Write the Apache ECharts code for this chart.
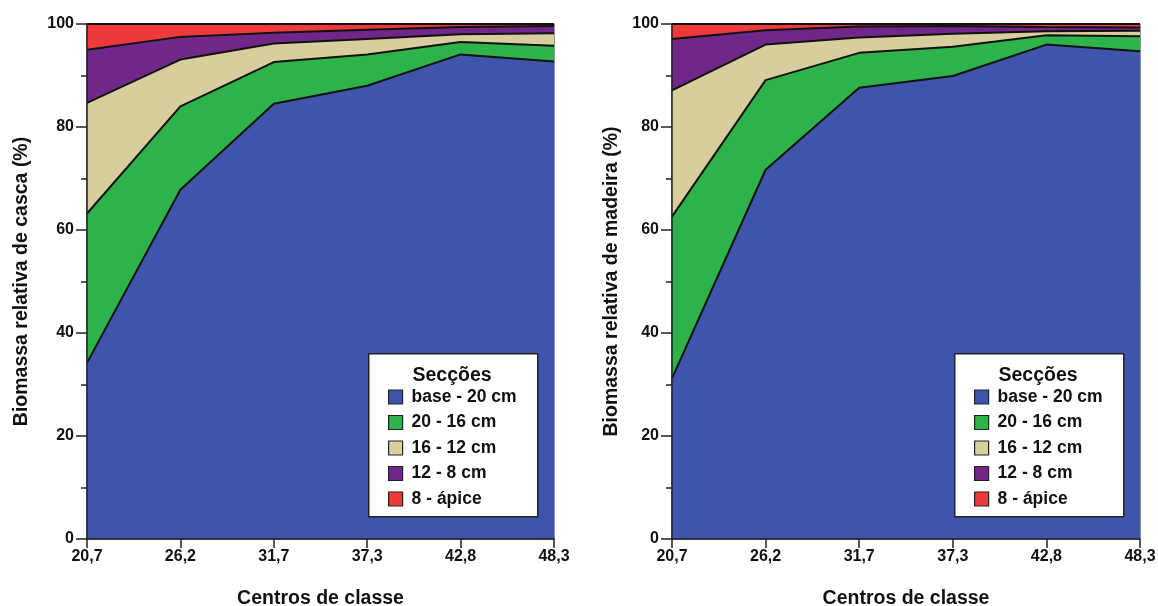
<!DOCTYPE html>
<html><head><meta charset="utf-8">
<script src="https://cdn.jsdelivr.net/npm/echarts@6/dist/echarts.min.js"></script>
<style>html,body{margin:0;padding:0;background:#fff}#c{width:1158px;height:606px}</style>
</head><body><div id="c"></div>
<script>
const categories = ['20,7','26,2','31,7','37,3','42,8','48,3'];
const seriesNames = ['base - 20 cm','20 - 16 cm','16 - 12 cm','12 - 8 cm','8 - ápice'];
const colors = ['#3F54AB','#2EB34A','#D8CD9C','#71268A','#EE3A3A'];
// Left: casca
const cascaBase   = [34.2, 67.8, 84.5, 88.0, 94.1, 92.7];
const casca20_16  = [29.0, 16.2, 8.1, 6.1, 2.4, 3.1];
const casca16_12  = [21.5, 9.1, 3.6, 3.0, 1.5, 2.4];
const casca12_8   = [10.3, 4.4, 2.1, 1.8, 1.4, 1.4];
const casca8_apice= [5.0, 2.5, 1.7, 1.1, 0.6, 0.4];
// Right: madeira
const madeiraBase   = [31.2, 71.7, 87.6, 89.9, 96.0, 94.7];
const madeira20_16  = [31.4, 17.4, 6.8, 5.7, 1.8, 2.9];
const madeira16_12  = [24.5, 6.9, 3.0, 2.5, 0.8, 1.1];
const madeira12_8   = [10.0, 2.8, 2.1, 1.5, 0.8, 0.6];
const madeira8_apice= [2.9, 1.2, 0.5, 0.4, 0.6, 0.7];

const yTitles = ['Biomassa relativa de casca (%)','Biomassa relativa de madeira (%)'];
const xTitle = 'Centros de classe';
const legendTitle = 'Secções';

const FONT = '"Liberation Sans", Arial, sans-serif';
const chart = echarts.init(document.getElementById('c'));
const grids = [
  {left: 87, width: 467, top: 24, bottom: 67, outerBoundsMode: 'none', containLabel: false, show: true, borderColor: '#222', borderWidth: 1, backgroundColor: 'transparent'},
  {left: 672, width: 468, top: 24, bottom: 67, outerBoundsMode: 'none', containLabel: false, show: true, borderColor: '#222', borderWidth: 1, backgroundColor: 'transparent'}
];
function xAx(i){return {
  type: 'category', gridIndex: i, data: categories, boundaryGap: false,
  axisLine: {lineStyle: {color: '#222', width: 1.5}},
  axisTick: {length: 9, lineStyle: {color: '#222', width: 1.5}},
  axisLabel: {color: '#111', fontFamily: FONT, fontWeight: 'bold', fontSize: 16, margin: 10, showMaxLabel: true, showMinLabel: true, interval: 0},
  name: xTitle, nameLocation: 'middle', nameGap: 50,
  nameTextStyle: {color: '#111', fontFamily: FONT, fontWeight: 'bold', fontSize: 19.5},
  splitLine: {show: false}, z: 10
};}
function yAx(i){return {
  type: 'value', gridIndex: i, min: 0, max: 100, interval: 20,
  axisLine: {show: true, lineStyle: {color: '#222', width: 1.5}},
  axisTick: {show: true, length: 11, lineStyle: {color: '#222', width: 1.5}},
  minorTick: {show: true, splitNumber: 2, length: 6, lineStyle: {color: '#222', width: 1.5}},
  axisLabel: {color: '#111', fontFamily: FONT, fontWeight: 'bold', fontSize: 16, margin: 13},
  splitLine: {show: false},
  name: yTitles[i], nameLocation: 'middle', nameGap: i === 0 ? 55 : 50,
  nameTextStyle: {color: '#111', fontFamily: FONT, fontWeight: 'bold', fontSize: 19.5}, z: 10
};}
const leftData = [cascaBase, casca20_16, casca16_12, casca12_8, casca8_apice];
const rightData = [madeiraBase, madeira20_16, madeira16_12, madeira12_8, madeira8_apice];
const series = [];
[leftData, rightData].forEach((set, gi) => {
  set.forEach((arr, k) => {
    series.push({
      name: seriesNames[k], type: 'line', xAxisIndex: gi, yAxisIndex: gi,
      stack: 'g' + gi, data: arr, symbol: 'none', smooth: false,
      color: colors[k],
      itemStyle: {color: colors[k]},
      lineStyle: {color: '#111', width: 2},
      areaStyle: {color: colors[k], opacity: 1},
      z: 2 + (5 - k) * 0.01
    });
  });
});
function legendAt(left){return {
  data: seriesNames, orient: 'vertical', left: left, top: 388,
  padding: 0, itemGap: 7.5, itemWidth: 14, itemHeight: 14, icon: 'rect',
  itemStyle: {borderColor: '#222', borderWidth: 1.2},
  textStyle: {color: '#111', fontFamily: FONT, fontWeight: 'bold', fontSize: 17.5, padding: [0,0,0,4]},
  selectedMode: false, z: 200
};}
function boxAt(left){return {
  type: 'rect', left: left, top: 353, z: 150,
  shape: {width: 169, height: 163},
  style: {fill: '#fff', stroke: '#222', lineWidth: 1.5}
};}
chart.setOption({
  animation: false,
  grid: grids,
  xAxis: [xAx(0), xAx(1)],
  yAxis: [yAx(0), yAx(1)],
  legend: [legendAt(388), legendAt(974)],
  graphic: [boxAt(368), boxAt(954)],
  title: [
    {text: legendTitle, left: 452, top: 366, textAlign: 'center', z: 200, textStyle: {color: '#111', fontFamily: FONT, fontWeight: 'bold', fontSize: 19.5}, padding: 0},
    {text: legendTitle, left: 1038, top: 366, textAlign: 'center', z: 200, textStyle: {color: '#111', fontFamily: FONT, fontWeight: 'bold', fontSize: 19.5}, padding: 0}
  ],
  series: series
});
</script></body></html>
